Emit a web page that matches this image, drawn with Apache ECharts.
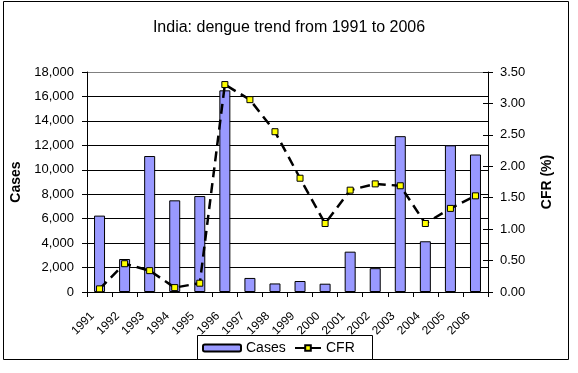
<!DOCTYPE html>
<html><head><meta charset="utf-8">
<script src="https://cdn.jsdelivr.net/npm/echarts@6/dist/echarts.min.js"></script>
<style>html,body{margin:0;padding:0;background:#fff}#c{width:578px;height:373px}</style>
</head><body><div id="c"></div>
<script>
const years = ['1991','1992','1993','1994','1995','1996','1997','1998','1999','2000','2001','2002','2003','2004','2005','2006'];
const cases = [6250, 2700, 11125, 7500, 7850, 16500, 1150, 700, 900, 680, 3300, 1950, 12750, 4150, 12000, 11250];
const cfr = [0.05, 0.45, 0.34, 0.07, 0.14, 3.30, 3.06, 2.55, 1.81, 1.09, 1.62, 1.72, 1.69, 1.09, 1.33, 1.53];
const leftTicks = {min: 0, max: 18000, interval: 2000};
const rightTicks = {min: 0, max: 3.5, interval: 0.5};

const F = 'Liberation Sans, Arial, sans-serif';
const chart = echarts.init(document.getElementById('c'), null, {renderer: 'canvas'});
const gridColors = ['#000','#000','#000','#000','#000','#000','#000','#000','#000','#808080'];
chart.setOption({
  backgroundColor: '#fff',
  animation: false,
  title: {text: 'India: dengue trend from 1991 to 2006', left: 'center', top: 15,
    textStyle: {fontFamily: F, fontSize: 16, fontWeight: 'normal', color: '#000'}},
  grid: {left: 87, right: 90, top: 72, bottom: 81},
  legend: [
    {data: ['Cases'], left: 202, top: 341, itemWidth: 38, itemHeight: 7, itemGap: 0, padding: 0,
      textStyle: {fontFamily: F, fontSize: 14, color: '#000'}},
    {data: ['CFR'], left: 294, top: 341, itemWidth: 26, itemHeight: 7, padding: 0,
      textStyle: {fontFamily: F, fontSize: 14, color: '#000'}}
  ],
  graphic: [
    {type: 'rect', shape: {x: 3.5, y: 1.5, width: 565, height: 358}, style: {fill: 'none', stroke: '#000', lineWidth: 1}, z: -1},
    {type: 'rect', shape: {x: 197.5, y: 335.5, width: 175, height: 24}, style: {fill: '#fff', stroke: '#000', lineWidth: 1}, z: 0}
  ],
  xAxis: {type: 'category', data: years, boundaryGap: true,
    axisLine: {lineStyle: {color: '#000'}},
    axisTick: {show: true, length: 5, lineStyle: {color: '#000'}},
    axisLabel: {rotate: 45, margin: 15, interval: 0, padding: [0, 10, 0, 0], fontFamily: F, fontSize: 12, color: '#000'}},
  yAxis: [
    {type: 'value', min: leftTicks.min, max: leftTicks.max, interval: leftTicks.interval,
      name: 'Cases', nameLocation: 'middle', nameGap: 62, nameRotate: 90,
      nameTextStyle: {fontFamily: F, fontSize: 14, fontWeight: 'bold', color: '#000'},
      axisLine: {show: true, lineStyle: {color: '#000'}},
      axisTick: {show: true, length: 5, lineStyle: {color: '#000'}},
      axisLabel: {margin: 13, fontFamily: F, fontSize: 13, color: '#000',
        formatter: v => v.toLocaleString('en-US')},
      splitLine: {show: true, lineStyle: {color: gridColors, width: 1}}},
    {type: 'value', position: 'right', min: rightTicks.min, max: rightTicks.max, interval: rightTicks.interval,
      name: 'CFR (%)', nameLocation: 'middle', nameGap: 52, nameRotate: 90,
      nameTextStyle: {fontFamily: F, fontSize: 14, fontWeight: 'bold', color: '#000'},
      axisLine: {show: true, lineStyle: {color: '#000'}},
      axisTick: {show: true, length: 5, lineStyle: {color: '#000'}},
      axisLabel: {margin: 12, fontFamily: F, fontSize: 13, color: '#000',
        formatter: v => v.toFixed(2)},
      splitLine: {show: false}},
    {type: 'value', position: 'right', min: rightTicks.min, max: rightTicks.max, interval: rightTicks.interval,
      axisLine: {show: false},
      axisTick: {show: true, inside: true, length: 5, lineStyle: {color: '#000'}},
      axisLabel: {show: false}, splitLine: {show: false}}
  ],
  series: [
    {name: 'Cases', type: 'bar', data: cases, yAxisIndex: 0, barWidth: 11,
      itemStyle: {color: '#9999ff', borderColor: '#000', borderWidth: 1}},
    {name: 'CFR', type: 'line', data: cfr, yAxisIndex: 1, symbol: 'rect', symbolSize: 6,
      lineStyle: {color: '#000', width: 2.5, type: [10, 6]},
      itemStyle: {color: '#ffff00', borderColor: '#000', borderWidth: 1}}
  ]
});
</script></body></html>
